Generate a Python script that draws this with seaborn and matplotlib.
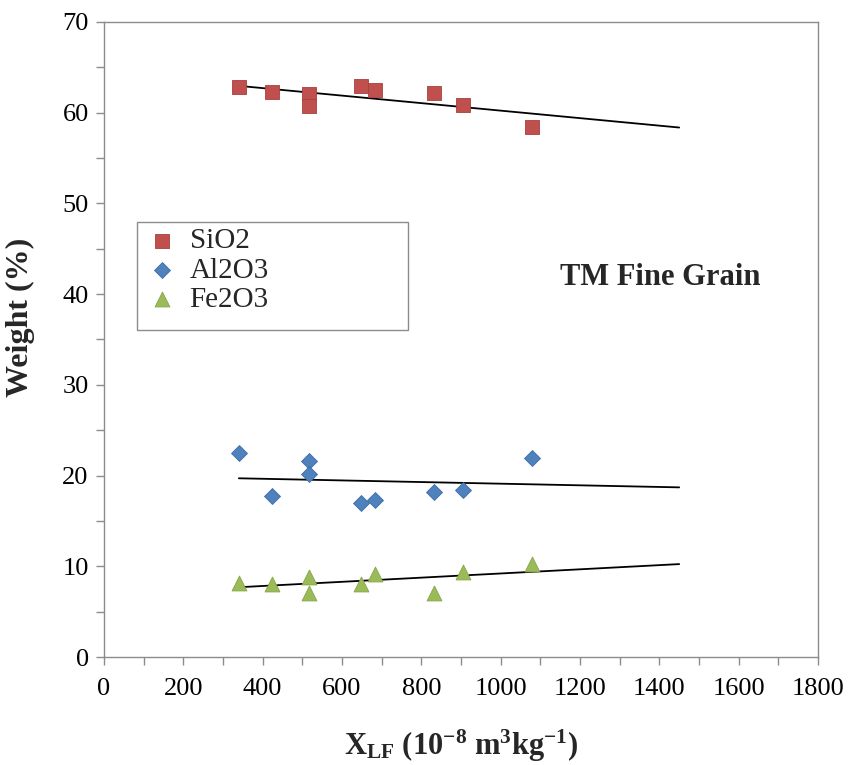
import numpy as np
import pandas as pd
import matplotlib
matplotlib.use("Agg")
import matplotlib.pyplot as plt
from matplotlib.patches import Rectangle
import seaborn as sns

# Low-frequency magnetic susceptibility of each sample (10^-8 m^3/kg)
x_lf = [340, 423, 518, 518, 648, 683, 832, 905, 1080]

# Oxide contents (weight %) for the same samples
sio2 = [62.8, 62.3, 62.1, 60.7, 62.95, 62.45, 62.2, 60.8, 58.4]
al2o3 = [22.45, 17.7, 21.6, 20.2, 16.95, 17.3, 18.2, 18.4, 21.9]
fe2o3 = [8.2, 8.0, 8.8, 7.05, 8.1, 9.1, 7.05, 9.35, 10.2]

oxides = ["SiO2", "Al2O3", "Fe2O3"]
colors = {"SiO2": "#C0504D", "Al2O3": "#4F81BD", "Fe2O3": "#9BBB59"}
edges = {"SiO2": "#A8403D", "Al2O3": "#3E6DA6", "Fe2O3": "#86A548"}
markers = {"SiO2": "s", "Al2O3": "D", "Fe2O3": "^"}
sizes = {"SiO2": 105, "Al2O3": 66, "Fe2O3": 115}

# Range over which the linear trend lines are drawn
trend_span = [340, 1450]

x_ticks = list(range(0, 1801, 200))
y_ticks = list(range(0, 71, 10))

df = pd.DataFrame({
    "x": x_lf * 3,
    "weight": sio2 + al2o3 + fe2o3,
    "oxide": [o for o in oxides for _ in x_lf],
})

sns.set_theme(style="white")
plt.rcParams["font.family"] = ["Liberation Serif", "DejaVu Serif"]
plt.rcParams["mathtext.fontset"] = "custom"
plt.rcParams["mathtext.rm"] = "Liberation Serif"
plt.rcParams["mathtext.bf"] = "Liberation Serif:bold"
plt.rcParams["mathtext.it"] = "Liberation Serif:italic"

fig = plt.figure(figsize=(8.54, 7.65), dpi=100)
ax = fig.add_axes([104 / 854, 1 - 657 / 765, 714 / 854, 635 / 765])

# Trend lines (least-squares fits)
for ox in oxides:
    sub = df[df["oxide"] == ox]
    slope, icpt = np.polyfit(sub["x"], sub["weight"], 1)
    xs = np.array(trend_span, dtype=float)
    sns.lineplot(x=xs, y=slope * xs + icpt, color="black", lw=1.3, ax=ax,
                 legend=False, zorder=2)

# Scatter markers
for ox in oxides:
    sub = df[df["oxide"] == ox]
    sns.scatterplot(data=sub, x="x", y="weight", marker=markers[ox],
                    s=sizes[ox], color=colors[ox], edgecolor=edges[ox],
                    linewidth=0.6, ax=ax, label=ox, zorder=3)

ax.set_xlim(0, 1800)
ax.set_ylim(0, 70)
ax.set_xticks(x_ticks)
ax.set_xticks(range(100, 1800, 200), minor=True)
ax.set_yticks(y_ticks)
ax.set_yticks(range(5, 70, 10), minor=True)
ax.set_xticklabels([str(v) for v in x_ticks])
ax.set_yticklabels([str(v) for v in y_ticks])

spine_col = "#8C8C8C"
for sp in ax.spines.values():
    sp.set_color(spine_col)
    sp.set_linewidth(1.0)
ax.tick_params(axis="both", which="both", direction="out", length=6,
               width=1.0, color=spine_col, labelsize=19, labelcolor="black",
               bottom=True, left=True)
ax.tick_params(axis="x", pad=9)
ax.tick_params(axis="y", pad=5)
ax.grid(False)

ax.set_xlabel(r"X$_{\mathbf{LF}}$ (10$^{\mathbf{-8}}$ m$^{\mathbf{3}}$kg$^{\mathbf{-1}}$)",
              fontsize=22, fontweight="bold", labelpad=20)
ax.set_ylabel("Weight (%)", fontsize=23, fontweight="bold")
ax.yaxis.set_label_coords(-0.097, 0.535)

ax.text(0.779, 0.597, "TM Fine Grain", transform=ax.transAxes,
        fontsize=22, fontweight="bold", ha="center", va="center")

# Legend with a wide framed box
lx0, ly_top, lx1, ly_bot = 137, 222, 408, 330
handles, labels = ax.get_legend_handles_labels()
leg = ax.legend(handles, labels, loc="upper left",
                bbox_to_anchor=(lx0 / 854, 1 - ly_top / 765),
                bbox_transform=fig.transFigure, frameon=False,
                fontsize=21, handlelength=1.3, handletextpad=0.3,
                labelspacing=0.1, borderpad=0.2, borderaxespad=0.0,
                markerscale=1.0)
fig.add_artist(Rectangle((lx0 / 854, 1 - ly_bot / 765),
                         (lx1 - lx0) / 854, (ly_bot - ly_top) / 765,
                         transform=fig.transFigure, fill=False,
                         edgecolor=spine_col, lw=1.0))

fig.savefig("out.png", dpi=100, facecolor="white")
